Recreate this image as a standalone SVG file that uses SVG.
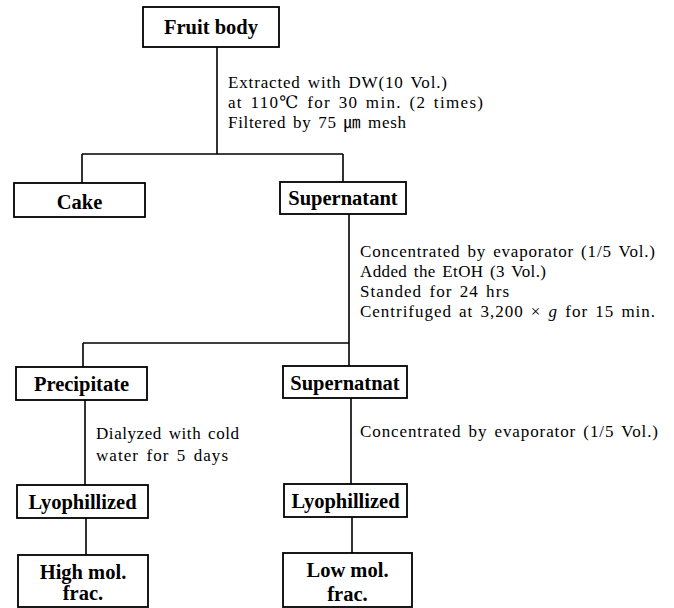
<svg xmlns="http://www.w3.org/2000/svg" width="674" height="608" viewBox="0 0 674 608">
<style>
.box{fill:#fff;stroke:#000;stroke-width:1.8}
.ln{fill:none;stroke:#000;stroke-width:1.6}
.nt{font-family:"Liberation Serif","DejaVu Serif","Noto Sans CJK KR",serif;font-weight:bold;font-size:20.5px;text-anchor:middle;fill:#000}
.lt{font-family:"Liberation Serif","DejaVu Serif","Noto Sans CJK KR",serif;font-size:17px;word-spacing:2px;fill:#000}
</style>
<rect width="674" height="608" fill="#fff"/>
<g id="connectors">
<path class="ln" d="M217,47 V154 M82,154 H343 M82,154 V183 M343,154 V182"/>
<path class="ln" d="M349,214 V366 M83,343 H349 M83,343 V367"/>
<path class="ln" d="M85,400 V485 M86,518 V555"/>
<path class="ln" d="M351,398 V484 M352,517 V553"/>
</g>
<g id="labels">
<text class="lt" x="228" y="88" textLength="219" lengthAdjust="spacing">Extracted with DW(10 Vol.)</text>
<text class="lt" x="228" y="108" textLength="255" lengthAdjust="spacing">at 110℃ for 30 min. (2 times)</text>
<text class="lt" x="228" y="128" textLength="178" lengthAdjust="spacing">Filtered by 75 ㎛ mesh</text>
<text class="lt" x="360" y="257" textLength="295" lengthAdjust="spacing">Concentrated by evaporator (1/5 Vol.)</text>
<text class="lt" x="360" y="277" textLength="186" lengthAdjust="spacing">Added the EtOH (3 Vol.)</text>
<text class="lt" x="360" y="297" textLength="149" lengthAdjust="spacing">Standed for 24 hrs</text>
<text class="lt" x="360" y="317" textLength="295" lengthAdjust="spacing">Centrifuged at 3,200 × <tspan font-style="italic">g</tspan> for 15 min.</text>
<text class="lt" x="96" y="439" textLength="143" lengthAdjust="spacing">Dialyzed with cold</text>
<text class="lt" x="96" y="461" textLength="132" lengthAdjust="spacing">water for 5 days</text>
<text class="lt" x="360" y="437" textLength="298" lengthAdjust="spacing">Concentrated by evaporator (1/5 Vol.)</text>
</g>
<g id="fruit-body"><rect class="box" x="143" y="7" width="136" height="40"/><text class="nt" x="211" y="34">Fruit body</text></g>
<g id="cake"><rect class="box" x="14" y="183" width="131" height="34"/><text class="nt" x="79.5" y="209">Cake</text></g>
<g id="supernatant"><rect class="box" x="280" y="182" width="126" height="32"/><text class="nt" x="343" y="205">Supernatant</text></g>
<g id="precipitate"><rect class="box" x="16" y="367" width="131" height="33"/><text class="nt" x="81.5" y="391">Precipitate</text></g>
<g id="supernatnat"><rect class="box" x="283" y="366" width="124" height="32"/><text class="nt" x="345" y="390">Supernatnat</text></g>
<g id="lyo-left"><rect class="box" x="17" y="485" width="131" height="33"/><text class="nt" x="82.5" y="509">Lyophillized</text></g>
<g id="lyo-right"><rect class="box" x="284" y="484" width="123" height="33"/><text class="nt" x="345.5" y="508">Lyophillized</text></g>
<g id="high-mol"><rect class="box" x="18" y="555" width="130" height="52"/><text class="nt" x="83" y="579">High mol.</text><text class="nt" x="83" y="600">frac.</text></g>
<g id="low-mol"><rect class="box" x="283" y="553" width="129" height="54"/><text class="nt" x="347.5" y="577">Low mol.</text><text class="nt" x="347.5" y="601">frac.</text></g>
</svg>
